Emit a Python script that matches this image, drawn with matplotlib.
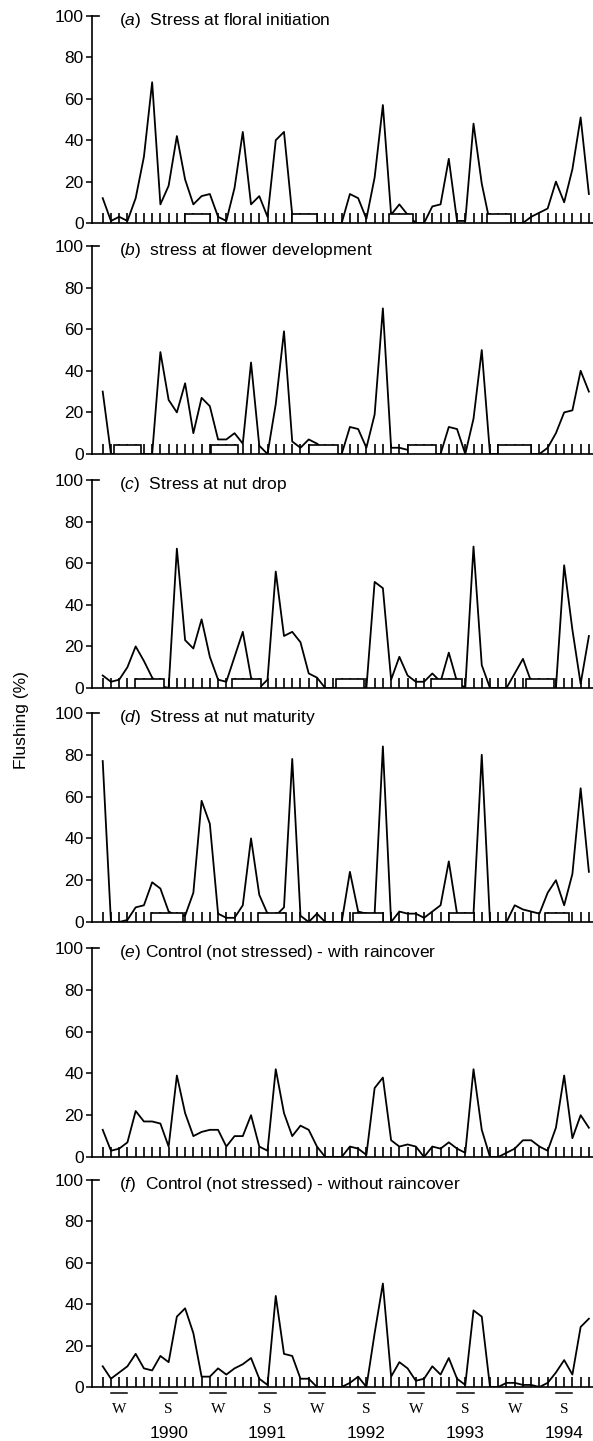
import matplotlib
matplotlib.use("Agg")
import matplotlib.pyplot as plt
from matplotlib.patches import Rectangle

plt.rcParams['font.family'] = 'Liberation Sans'
plt.rcParams['mathtext.fontset'] = 'custom'
plt.rcParams['mathtext.rm'] = 'Liberation Sans'
plt.rcParams['mathtext.it'] = 'Liberation Sans:italic'

# monthly flushing (%) from May 1989 to April 1994
months = list(range(60))

flush_a = [12, 1, 3, 1, 12, 32, 68, 9, 18, 42, 21, 9, 13, 14, 3, 1, 17, 44, 9, 13,
           3, 40, 44, 4, 4, 4, 0, 0, 0, 0, 14, 12, 2, 22, 57, 4, 9, 4, 0, 0,
           8, 9, 31, 1, 1, 48, 19, 0, 0, 0, 0, 0, 3, 5, 7, 20, 10, 26, 51, 14]
flush_b = [30, 0, 0, 0, 0, 0, 0, 49, 26, 20, 34, 10, 27, 23, 7, 7, 10, 5, 44, 4,
           0, 24, 59, 6, 3, 7, 5, 2, 0, 0, 13, 12, 3, 19, 70, 3, 3, 2, 0, 0,
           0, 0, 13, 12, 0, 17, 50, 0, 0, 0, 0, 0, 0, 0, 3, 10, 20, 21, 40, 30]
flush_c = [6, 3, 4, 10, 20, 13, 5, 1, 0, 67, 23, 19, 33, 15, 4, 3, 15, 27, 5, 0,
           4, 56, 25, 27, 22, 7, 5, 0, 0, 0, 0, 0, 0, 51, 48, 4, 15, 6, 3, 3,
           7, 3, 17, 3, 0, 68, 11, 0, 0, 0, 7, 14, 3, 0, 0, 0, 59, 28, 2, 25]
flush_d = [77, 0, 0, 1, 7, 8, 19, 16, 5, 3, 3, 14, 58, 47, 4, 2, 2, 8, 40, 13,
           4, 3, 7, 78, 3, 0, 4, 0, 0, 0, 24, 5, 4, 4, 84, 0, 5, 4, 4, 2,
           5, 8, 29, 4, 4, 4, 80, 0, 0, 0, 8, 6, 5, 4, 14, 20, 8, 23, 64, 24]
flush_e = [13, 3, 4, 7, 22, 17, 17, 16, 5, 39, 21, 10, 12, 13, 13, 5, 10, 10, 20, 5,
           3, 42, 21, 10, 15, 13, 5, 0, 0, 0, 5, 4, 1, 33, 38, 8, 5, 6, 5, 0,
           5, 4, 7, 4, 2, 42, 13, 0, 0, 2, 4, 8, 8, 5, 3, 14, 39, 9, 20, 14]
flush_f = [10, 4, 7, 10, 16, 9, 8, 15, 12, 34, 38, 26, 5, 5, 9, 6, 9, 11, 14, 4,
           1, 44, 16, 15, 4, 4, 0, 0, 0, 0, 2, 5, 0, 26, 50, 5, 12, 9, 3, 4,
           10, 6, 14, 4, 1, 37, 34, 0, 0, 2, 2, 1, 1, 0, 2, 7, 13, 6, 29, 33]

# stress periods (start month, end month) shown as open boxes
boxes_a = [(10, 13), (23, 26), (34.7, 37.7), (46.6, 49.6)]
boxes_b = [(1.4, 4.7), (13.2, 16.4), (25, 28.6), (37, 40.5), (48, 52)]
boxes_c = [(3.9, 7.4), (15.7, 19.2), (28.3, 31.7), (39.8, 43.6), (51.4, 54.8)]
boxes_d = [(5.9, 9.7), (18.9, 22.3), (30.4, 34.0), (42, 45), (53.7, 56.6)]

titles = ['($\\mathit{a}$)  Stress at floral initiation',
          '($\\mathit{b}$)  stress at flower development',
          '($\\mathit{c}$)  Stress at nut drop',
          '($\\mathit{d}$)  Stress at nut maturity',
          '($\\mathit{e}$) Control (not stressed) - with raincover',
          '($\\mathit{f}$)  Control (not stressed) - without raincover']

season_pos = [2, 8, 14, 20, 26, 32, 38, 44, 50, 56]
season_labels = ['W', 'S', 'W', 'S', 'W', 'S', 'W', 'S', 'W', 'S']
year_pos = [8, 20, 32, 44, 56]
year_labels = ['1990', '1991', '1992', '1993', '1994']

series = [flush_a, flush_b, flush_c, flush_d, flush_e, flush_f]
box_sets = [boxes_a, boxes_b, boxes_c, boxes_d, [], []]

# panel (top, bottom) in pixels of the 1441 px tall figure
rows = [(16, 223), (246, 454), (480, 688), (713, 922), (948, 1157), (1180, 1387)]

W, H = 593, 1441
fig = plt.figure(figsize=(W / 100, H / 100), dpi=100)

x0, x1 = -1.3, 59.5
left = 92 / W
width = 1 - left

for k in range(6):
    top, bot = rows[k]
    ax = fig.add_axes([left, 1 - bot / H, width, (bot - top) / H])
    ax.plot(months, series[k], color='black', lw=1.3, zorder=2)
    for s, e in box_sets[k]:
        ax.add_patch(Rectangle((s, 0), e - s, 4.3, facecolor='white',
                               edgecolor='black', lw=1.2, zorder=3))
    ax.set_xlim(x0, x1)
    ax.set_ylim(0, 100)
    ax.set_yticks([0, 20, 40, 60, 80, 100])
    ax.set_xticks(months)
    ax.set_xticklabels([])
    ax.tick_params(axis='x', direction='in', length=7.5, width=1.2)
    ax.tick_params(axis='y', direction='out', length=4, width=1.1,
                   labelsize=12.5, pad=2)
    ax.spines['right'].set_visible(False)
    ax.spines['top'].set_bounds(x0, x0 + 0.8)
    for sp in ['left', 'bottom', 'top']:
        ax.spines[sp].set_linewidth(1.2)
    ax.text(2.0, 98, titles[k], fontsize=12.5, va='center', ha='left')

    if k == 5:
        for p, lab in zip(season_pos, season_labels):
            ax.plot([p - 1, p + 1], [-2.9, -2.9], color='black', lw=1.1,
                    clip_on=False)
            ax.text(p, -11, lab, family='Liberation Serif', fontsize=11,
                    ha='center', va='center', clip_on=False)
        for p, lab in zip(year_pos, year_labels):
            ax.text(p, -22.3, lab, fontsize=12.5, ha='center', va='center',
                    clip_on=False)

fig.text(22 / W, 0.5, 'Flushing (%)', rotation=90, fontsize=12.5,
         ha='center', va='center')

fig.savefig('out.png', dpi=100)
